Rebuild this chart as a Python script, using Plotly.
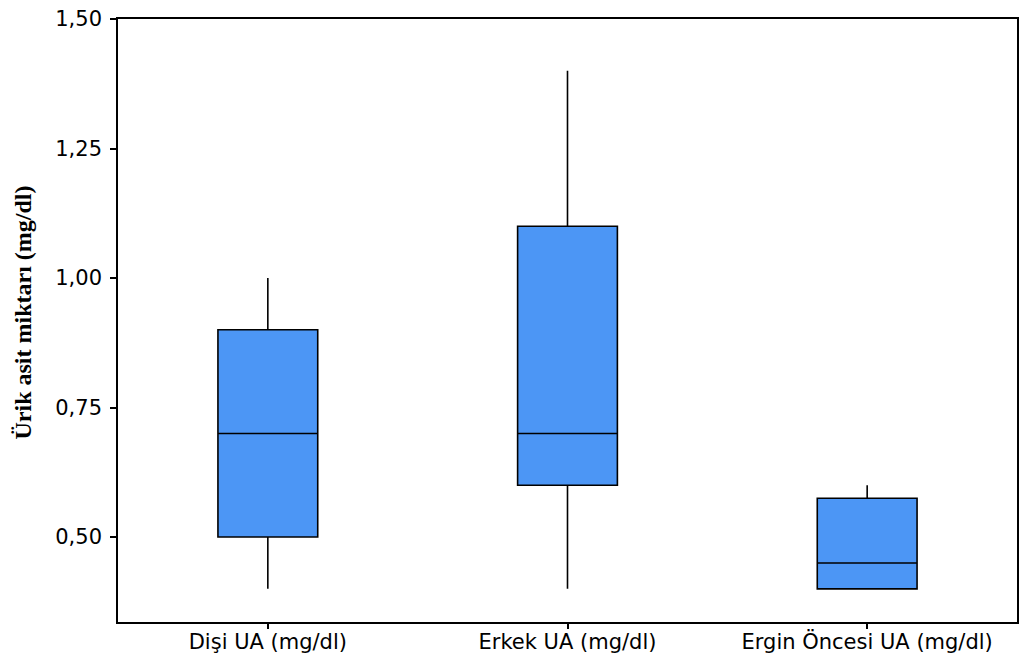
import plotly.graph_objects as go

# Uric acid summary statistics per group (mg/dl)
categories = ["Dişi UA (mg/dl)", "Erkek UA (mg/dl)", "Ergin Öncesi UA (mg/dl)"]
lower_fence = [0.40, 0.40, 0.40]
q1 = [0.50, 0.60, 0.40]
median = [0.70, 0.70, 0.45]
q3 = [0.90, 1.10, 0.575]
upper_fence = [1.00, 1.40, 0.60]
y_ticks = [0.50, 0.75, 1.00, 1.25, 1.50]

fig = go.Figure(
    go.Box(
        x=categories,
        q1=q1,
        median=median,
        q3=q3,
        lowerfence=lower_fence,
        upperfence=upper_fence,
        width=0.333,
        whiskerwidth=0,
        fillcolor="rgb(76,150,245)",
        line=dict(color="black", width=1.6),
        boxpoints=False,
        hoverinfo="skip",
    )
)

axis_font = dict(family="DejaVu Sans", size=21, color="black")

fig.update_layout(
    width=1024,
    height=668,
    margin=dict(l=118, r=5, t=19, b=46),
    paper_bgcolor="white",
    plot_bgcolor="white",
    showlegend=False,
    separators=",.",
    xaxis=dict(
        range=[-0.5, 2.5],
        showline=True,
        linecolor="black",
        linewidth=1.6,
        mirror=True,
        ticks="outside",
        ticklen=5,
        tickwidth=1.5,
        tickcolor="black",
        tickfont=axis_font,
        ticklabelstandoff=-5,
        showgrid=False,
        zeroline=False,
    ),
    yaxis=dict(
        range=[0.336, 1.5],
        tickvals=y_ticks,
        tickformat=".2f",
        showline=True,
        linecolor="black",
        linewidth=1.6,
        mirror=True,
        ticks="outside",
        ticklen=6,
        tickwidth=1.5,
        tickcolor="black",
        tickfont=axis_font,
        ticklabelstandoff=4,
        showgrid=False,
        zeroline=False,
    ),
    annotations=[
        dict(
            text="<b>Ürik asit miktarı (mg/dl)</b>",
            font=dict(family="Liberation Serif", size=24, color="black"),
            textangle=-90,
            xref="paper",
            yref="paper",
            x=0,
            y=0.5,
            xanchor="center",
            yanchor="middle",
            xshift=-96,
            yshift=8,
            showarrow=False,
        )
    ],
)

fig.write_html("out.html")
